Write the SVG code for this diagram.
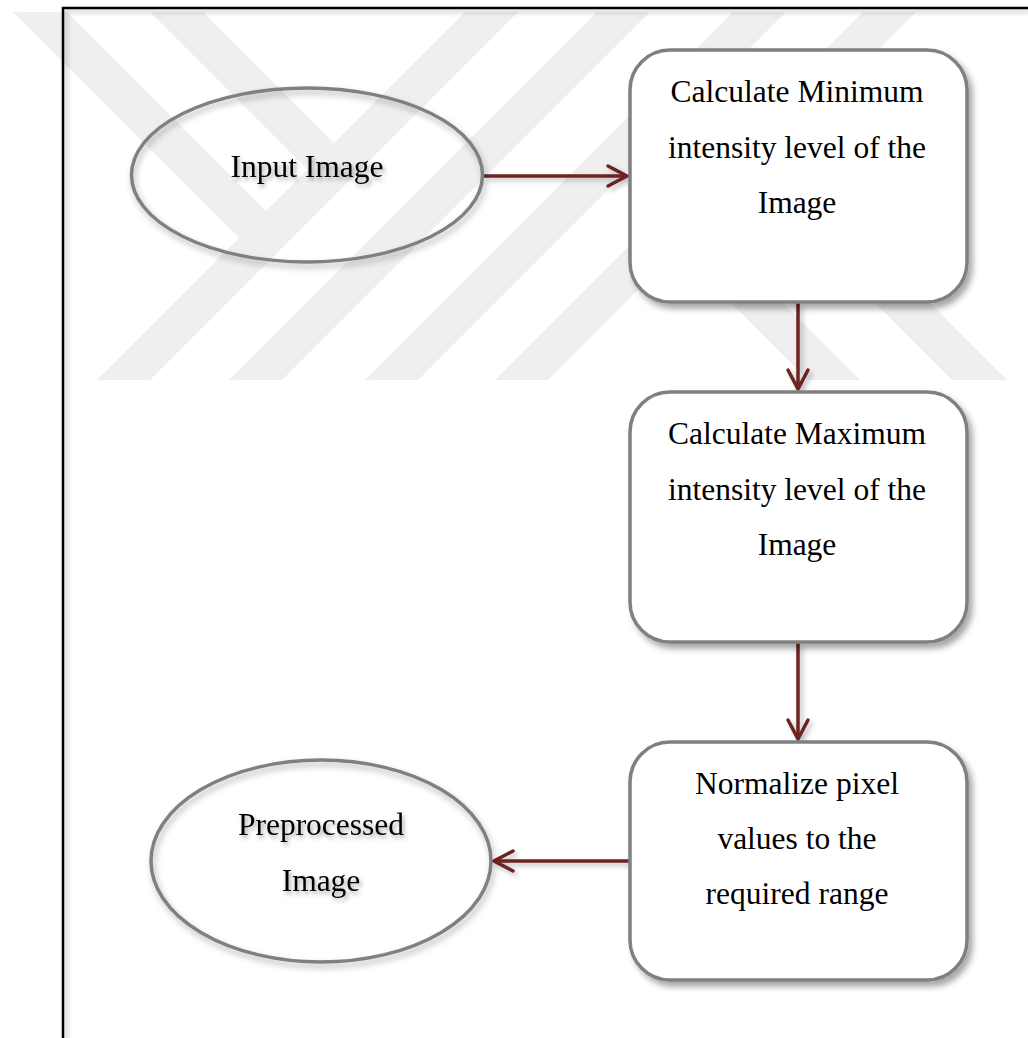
<svg xmlns="http://www.w3.org/2000/svg" width="1028" height="1038" viewBox="0 0 1028 1038">
  <defs>
    <style>
      .wm { fill: #efefef; stroke: none; }
      .box { fill: #ffffff; stroke: #808080; stroke-width: 3.5; }
      .oval { fill: none; stroke: #808080; stroke-width: 3.5; }
      .lbl { font-family: "Liberation Serif", "Times New Roman", serif; font-size: 31.5px; fill: #000000; text-anchor: middle; }
      .conn { stroke: #6e2323; stroke-width: 3.5; fill: none; }
      .frame { stroke: #000000; stroke-width: 2.5; fill: none; }
    </style>
    <filter id="boxShadow" x="-10%" y="-10%" width="125%" height="125%">
      <feDropShadow dx="4" dy="5" stdDeviation="3" flood-color="#000000" flood-opacity="0.35"/>
    </filter>
    <filter id="ovalShadow" x="-10%" y="-10%" width="125%" height="130%">
      <feDropShadow dx="2" dy="4" stdDeviation="3" flood-color="#000000" flood-opacity="0.3"/>
    </filter>
    <filter id="textShadow" x="-10%" y="-30%" width="125%" height="170%">
      <feDropShadow dx="2" dy="3" stdDeviation="2" flood-color="#000000" flood-opacity="0.35"/>
    </filter>
    <filter id="lineShadow" x="-10%" y="-10%" width="130%" height="130%">
      <feDropShadow dx="3" dy="3" stdDeviation="2.5" flood-color="#000000" flood-opacity="0.25"/>
    </filter>
    <marker id="arrow" viewBox="-22 -13 26 26" markerWidth="26" markerHeight="26" refX="0" refY="0" orient="auto" markerUnits="userSpaceOnUse">
      <path d="M -19 -10 L 0 0 L -19 10" fill="none" stroke="#6e2323" stroke-width="3.5" stroke-linecap="round" stroke-linejoin="miter"/>
    </marker>
  </defs>

  <rect x="0" y="0" width="1028" height="1038" fill="#ffffff"/>

  <g id="watermark">
    <polygon class="wm" points="465,12 518,12 150,380 97,380"/>
    <polygon class="wm" points="597,12 650,12 282,380 229,380"/>
    <polygon class="wm" points="733,12 786,12 418,380 365,380"/>
    <polygon class="wm" points="863,12 916,12 548,380 495,380"/>
    <polygon class="wm" points="13,12 67,12 266,211 239,238"/>
    <polygon class="wm" points="150,12 203,12 334,143 307.5,169.5"/>
    <polygon class="wm" points="688,260 740,260 860,380 808,380"/>
    <polygon class="wm" points="832,260 887,260 1007,380 952,380"/>
  </g>

  <g id="frame" filter="url(#lineShadow)">
    <polyline class="frame" points="63,1038 63,8 1028,8"/>
  </g>

  <g id="connectors" filter="url(#lineShadow)">
    <line class="conn" x1="484" y1="176" x2="627" y2="176" marker-end="url(#arrow)"/>
    <line class="conn" x1="798" y1="303" x2="798" y2="389" marker-end="url(#arrow)"/>
    <line class="conn" x1="798" y1="643" x2="798" y2="739" marker-end="url(#arrow)"/>
    <line class="conn" x1="630" y1="861" x2="494" y2="861" marker-end="url(#arrow)"/>
  </g>

  <g id="node-input">
    <ellipse class="oval" cx="307" cy="175" rx="175.5" ry="87" filter="url(#ovalShadow)"/>
    <text class="lbl" x="307" y="177" filter="url(#textShadow)">Input Image</text>
  </g>

  <g id="node-min">
    <rect class="box" x="630" y="50" width="337" height="252" rx="40" ry="40" filter="url(#boxShadow)"/>
    <text class="lbl" x="797" y="102">Calculate Minimum</text>
    <text class="lbl" x="797" y="158">intensity level of the</text>
    <text class="lbl" x="797" y="213">Image</text>
  </g>

  <g id="node-max">
    <rect class="box" x="630" y="392" width="337" height="250" rx="40" ry="40" filter="url(#boxShadow)"/>
    <text class="lbl" x="797" y="444">Calculate Maximum</text>
    <text class="lbl" x="797" y="500">intensity level of the</text>
    <text class="lbl" x="797" y="555">Image</text>
  </g>

  <g id="node-normalize">
    <rect class="box" x="630" y="742" width="337" height="238" rx="40" ry="40" filter="url(#boxShadow)"/>
    <text class="lbl" x="797" y="794">Normalize pixel</text>
    <text class="lbl" x="797" y="849">values to the</text>
    <text class="lbl" x="797" y="904">required range</text>
  </g>

  <g id="node-output">
    <ellipse class="oval" cx="321" cy="861" rx="170" ry="101" filter="url(#ovalShadow)"/>
    <text class="lbl" x="321" y="835" filter="url(#textShadow)">Preprocessed</text>
    <text class="lbl" x="321" y="891" filter="url(#textShadow)">Image</text>
  </g>
</svg>
